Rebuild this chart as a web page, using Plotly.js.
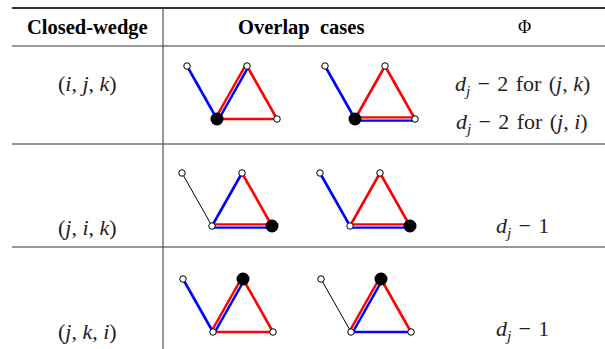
<!DOCTYPE html>
<html>
<head>
<meta charset="utf-8">
<script src="https://cdn.plot.ly/plotly-3.0.1.min.js"></script>
<style>
  html, body { margin: 0; padding: 0; background: #fff; }
  #plotArea { width: 605px; height: 349px; }
</style>
</head>
<body>
<div id="plotArea"></div>
<script>
// table text
var headers = ["Closed-wedge", "Overlap\u00a0 cases", "\u03a6"];
var headerX = [87, 301, 524];
var rowLabels = ["(<i>i</i>,\u2005<i>j</i>,\u2005<i>k</i>)", "(<i>j</i>,\u2005<i>i</i>,\u2005<i>k</i>)", "(<i>j</i>,\u2005<i>k</i>,\u2005<i>i</i>)"];
var rowLabelY = [83, 227, 331];
var phiText = [
    "<i>d</i><sub><i>j</i></sub>\u2004\u2212\u20042\u2004for\u2004(<i>j</i>,\u2005<i>k</i>)",
    "<i>d</i><sub><i>j</i></sub>\u2004\u2212\u20042\u2004for\u2004(<i>j</i>,\u2005<i>i</i>)",
    "<i>d</i><sub><i>j</i></sub>\u2004\u2212\u20041",
    "<i>d</i><sub><i>j</i></sub>\u2004\u2212\u20041"
];
var phiY = [85, 123, 227, 330];

// table rules
var ruleY = [8, 46, 144, 247];
var colX = 163;

// the small graph: nodes L, T, B, R (local coords)
var nodeX = [0, 60, 30, 90];
var nodeY = [0, 0, 53, 53];
var edges = [[0, 2], [2, 1], [1, 3], [2, 3]];   // L-B, B-T, T-R, B-R

// six panels (two per row)
var panelX = [187, 325, 182, 320, 183, 321];
var panelY = [66, 66, 173, 173, 279, 279];
var blackNode = [2, 2, 3, 3, 1, 1];
// edge colours per panel: b = blue, r = red, k = thin black, rb = red + blue overlap
var edgeLB = ["b", "b", "k", "b", "b", "k"];
var edgeBT = ["rb", "r", "b", "r", "rb", "rb"];
var edgeTR = ["r", "r", "r", "r", "r", "r"];
var edgeBR = ["r", "rb", "rb", "rb", "r", "b"];

var RED = "#ff0000", BLUE = "#0000ff";
var data = [];

function seg(x0, y0, x1, y1, color, width) {
    data.push({
        x: [x0, x1], y: [y0, y1], mode: "lines", type: "scatter",
        line: {color: color, width: width}, hoverinfo: "skip", showlegend: false
    });
}

var edgeCols = [edgeLB, edgeBT, edgeTR, edgeBR];
for (var p = 0; p < panelX.length; p++) {
    for (var e = 0; e < edges.length; e++) {
        var a = edges[e][0], b = edges[e][1];
        var x0 = panelX[p] + nodeX[a], y0 = panelY[p] + nodeY[a];
        var x1 = panelX[p] + nodeX[b], y1 = panelY[p] + nodeY[b];
        var c = edgeCols[e][p];
        if (c == "k") {
            seg(x0, y0, x1, y1, "#000", 1);
        } else if (c == "r") {
            seg(x0, y0, x1, y1, RED, 2.6);
        } else if (c == "b") {
            seg(x0, y0, x1, y1, BLUE, 2.6);
        } else {
            // two parallel strokes, red on the upper/left side
            var dx = x1 - x0, dy = y1 - y0, len = Math.sqrt(dx * dx + dy * dy);
            var nx = -dy / len * 1.6, ny = dx / len * 1.6;
            seg(x0 - nx, y0 - ny, x1 - nx, y1 - ny, RED, 2.4);
            seg(x0 + nx, y0 + ny, x1 + nx, y1 + ny, BLUE, 2.4);
        }
    }
}

// nodes on top
var openX = [], openY = [], fullX = [], fullY = [];
for (var p = 0; p < panelX.length; p++) {
    for (var n = 0; n < nodeX.length; n++) {
        if (n == blackNode[p]) {
            fullX.push(panelX[p] + nodeX[n]); fullY.push(panelY[p] + nodeY[n]);
        } else {
            openX.push(panelX[p] + nodeX[n]); openY.push(panelY[p] + nodeY[n]);
        }
    }
}
data.push({x: openX, y: openY, mode: "markers", type: "scatter", hoverinfo: "skip", showlegend: false,
    marker: {size: 6.5, color: "#fff", line: {color: "#000", width: 1}}});
data.push({x: fullX, y: fullY, mode: "markers", type: "scatter", hoverinfo: "skip", showlegend: false,
    marker: {size: 13, color: "#000", line: {width: 0}}});

// rules as shapes
var shapes = [];
for (var i = 0; i < ruleY.length; i++) {
    shapes.push({type: "line", xref: "x", yref: "y", x0: 12, x1: 605, y0: ruleY[i], y1: ruleY[i],
        line: {color: "#333", width: i == 0 ? 1.8 : 1.1}});
}
shapes.push({type: "line", xref: "x", yref: "y", x0: colX, x1: colX, y0: ruleY[0], y1: 349,
    line: {color: "#444", width: 1.1}});

var annotations = [];
var serif = "'Liberation Serif', 'Times New Roman', serif";
for (var i = 0; i < headers.length; i++) {
    annotations.push({x: headerX[i], y: 27, xref: "x", yref: "y", text: i < 2 ? "<b>" + headers[i] + "</b>" : headers[i],
        showarrow: false, xanchor: "center", yanchor: "middle",
        font: {family: serif, size: i < 2 ? 20.5 : 18, color: "#000"}});
}
for (var i = 0; i < rowLabels.length; i++) {
    annotations.push({x: 87, y: rowLabelY[i], xref: "x", yref: "y", text: rowLabels[i],
        showarrow: false, xanchor: "center", yanchor: "middle",
        font: {family: serif, size: 22, color: "#222"}});
}
for (var i = 0; i < phiText.length; i++) {
    annotations.push({x: 522, y: phiY[i], xref: "x", yref: "y", text: phiText[i],
        showarrow: false, xanchor: "center", yanchor: "middle",
        font: {family: serif, size: 22, color: "#222"}});
}

var layout = {
    width: 605, height: 349,
    margin: {l: 0, r: 0, t: 0, b: 0},
    paper_bgcolor: "#fff", plot_bgcolor: "#fff",
    xaxis: {range: [0, 605], visible: false, fixedrange: true},
    yaxis: {range: [349, 0], visible: false, fixedrange: true},
    shapes: shapes,
    annotations: annotations,
    showlegend: false
};

Plotly.newPlot("plotArea", data, layout, {staticPlot: true, displayModeBar: false});
</script>
</body>
</html>
